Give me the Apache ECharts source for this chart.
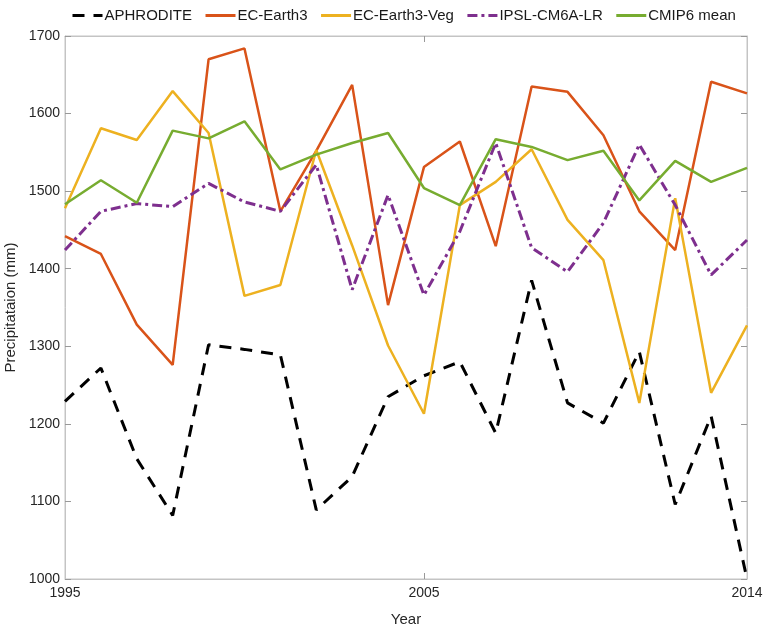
<!DOCTYPE html>
<html>
<head>
<meta charset="utf-8">
<script src="https://cdn.jsdelivr.net/npm/echarts@6/dist/echarts.min.js"></script>
<style>html,body{margin:0;padding:0;background:#fff}#c{width:763px;height:625px}</style>
</head>
<body>
<div id="c"></div>
<script>
var years = ['1995','1996','1997','1998','1999','2000','2001','2002','2003','2004','2005','2006','2007','2008','2009','2010','2011','2012','2013','2014'];
var aphrodite = [1229,1272,1155,1082,1302,1296,1289,1089,1132,1235,1262,1280,1188,1385,1227,1201,1293,1096,1210,1000];
var ecEarth3 = [1442,1419,1328,1276,1670,1684,1474,1552,1637,1353,1531,1564,1429,1635,1628,1572,1474,1424,1641,1626];
var ecEarth3Veg = [1478,1581,1566,1629,1575,1365,1379,1553,1430,1301,1213,1482,1512,1554,1463,1411,1227,1491,1240,1327];
var ipsl = [1424,1474,1484,1480,1510,1486,1474,1534,1373,1495,1366,1448,1562,1427,1396,1459,1560,1482,1392,1437];
var cmip6 = [1483,1514,1485,1578,1568,1590,1528,1547,1562,1575,1504,1482,1567,1557,1540,1552,1488,1539,1512,1530];
var yTicks = {min:1000, max:1700, interval:100};

var chart = echarts.init(document.getElementById('c'), null, {renderer:'canvas'});
var font = 'Arial, "Liberation Sans", sans-serif';
var axisGrey = '#c4c4c4';
function mk(name, data, color, type, width) {
  return {name:name, type:'line', data:data, symbol:'none', showSymbol:false, smooth:false,
    lineStyle:{color:color, width:width, type:type}, itemStyle:{color:color}, z: 3};
}
chart.setOption({
  animation:false,
  backgroundColor:'#fff',
  textStyle:{fontFamily:font},
  legend:{
    show:true, top:3, left:66, itemWidth:30, itemHeight:14, itemGap:12,
    itemStyle:{opacity:0},
    lineStyle:{width:3},
    textStyle:{fontSize:15, color:'#1a1a1a', padding:[0,0,0,-3], fontFamily:font},
    data:['APHRODITE','EC-Earth3','EC-Earth3-Veg','IPSL-CM6A-LR','CMIP6 mean']
  },
  grid:{left:65, right:16, top:36, bottom:46, show:true, borderColor:axisGrey, borderWidth:1,
    outerBoundsMode:'none', containLabel:false},
  xAxis:[{
    type:'category', data:years, boundaryGap:false, position:'bottom',
    name:'Year', nameLocation:'middle', nameGap:33,
    nameTextStyle:{fontSize:15, color:'#262626', fontFamily:font},
    axisLine:{show:true, lineStyle:{color:axisGrey}},
    axisTick:{show:true, inside:true, length:6, lineStyle:{color:'#999'},
      interval:function(i){return i===10;}},
    axisLabel:{fontSize:14, color:'#262626', margin:7, fontFamily:font,
      interval:function(i){return i===0||i===10||i===19;}},
    splitLine:{show:false}
  },{
    type:'category', data:years, boundaryGap:false, position:'top',
    axisLine:{show:true, lineStyle:{color:axisGrey}},
    axisTick:{show:true, inside:true, length:6, lineStyle:{color:'#999'},
      interval:function(i){return i===10;}},
    axisLabel:{show:false}, splitLine:{show:false}
  }],
  yAxis:[{
    type:'value', min:yTicks.min, max:yTicks.max, interval:yTicks.interval, position:'left',
    name:'Precipitataion (mm)', nameLocation:'middle', nameGap:44,
    nameTextStyle:{fontSize:15, color:'#262626', fontFamily:font},
    axisLine:{show:true, lineStyle:{color:axisGrey}},
    axisTick:{show:true, inside:true, length:6, lineStyle:{color:'#999'}},
    axisLabel:{fontSize:14, color:'#262626', margin:5, fontFamily:font,
      formatter:function(v){return String(v);}},
    splitLine:{show:false}
  },{
    type:'value', min:yTicks.min, max:yTicks.max, interval:yTicks.interval, position:'right',
    axisLine:{show:true, lineStyle:{color:axisGrey}},
    axisTick:{show:true, inside:true, length:6, lineStyle:{color:'#999'}},
    axisLabel:{show:false}, splitLine:{show:false}
  }],
  series:[
    mk('APHRODITE', aphrodite, '#000000', [12,9], 3),
    mk('EC-Earth3', ecEarth3, '#D95319', 'solid', 2.5),
    mk('EC-Earth3-Veg', ecEarth3Veg, '#EDB120', 'solid', 2.5),
    mk('IPSL-CM6A-LR', ipsl, '#7E2F8E', [10,4,3,4], 3),
    mk('CMIP6 mean', cmip6, '#77AC30', 'solid', 2.5)
  ]
});
</script>
</body>
</html>
